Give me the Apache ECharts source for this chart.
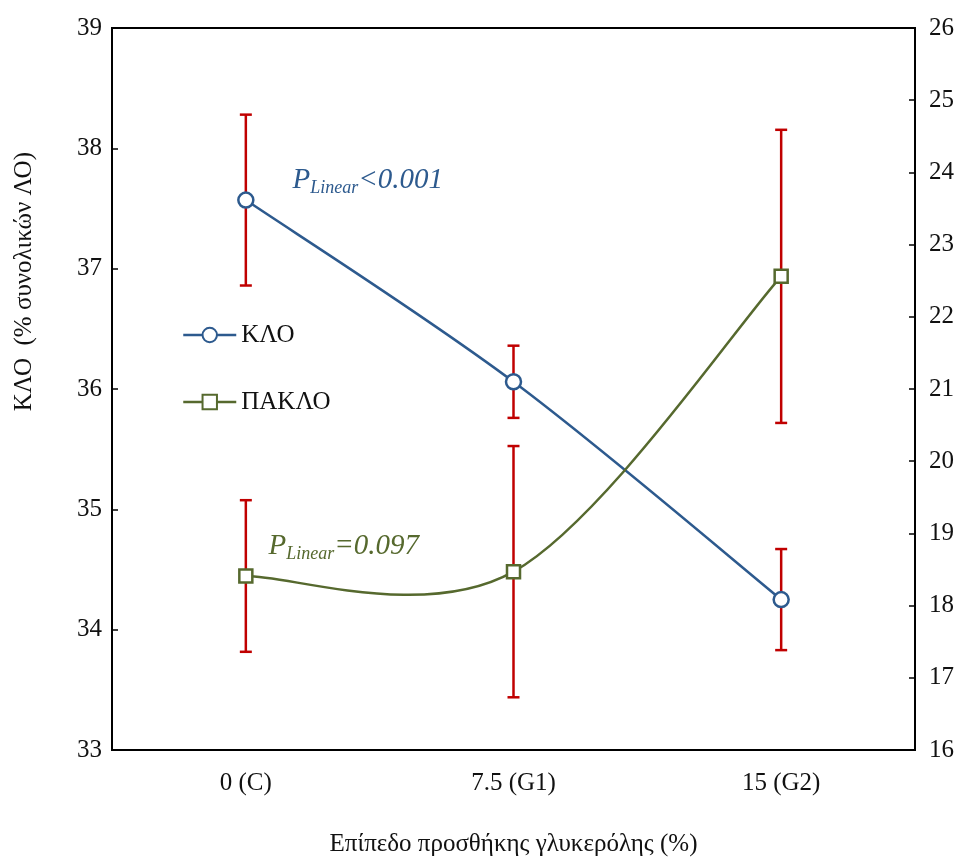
<!DOCTYPE html>
<html>
<head>
<meta charset="utf-8">
<script src="https://cdn.jsdelivr.net/npm/echarts@6/dist/echarts.min.js"></script>
<style>
  html, body { margin: 0; padding: 0; background: #fff; }
  #chart { width: 968px; height: 859px; }
</style>
</head>
<body>
<div id="chart"></div>
<script>
// Glycerol inclusion levels
const categories = ['0 (C)', '7.5 (G1)', '15 (G2)'];

// ΚΛΟ (% of total fatty acids), left axis: mean and ± error
const kloMean = [37.57, 36.06, 34.25];
const kloErr = [0.71, 0.30, 0.42];

// ΠΑΚΛΟ, right axis: mean and ± error
const pakloMean = [18.41, 18.47, 22.56];
const pakloErr = [1.05, 1.74, 2.03];

// Axis ranges
const leftAxis = { min: 33, max: 39, interval: 1 };
const rightAxis = { min: 16, max: 26, interval: 1 };

const BLUE = '#2D5A8E';
const GREEN = '#56692E';
const RED = '#C00000';
const FONT = 'Liberation Serif';
const TEXT = '#111';
const FS = 25;

function errData(mean, err) {
  return mean.map((m, i) => [i, m - err[i], m + err[i]]);
}

function renderErrorBar(params, api) {
  const x = api.value(0);
  const lo = api.coord([x, api.value(1)]);
  const hi = api.coord([x, api.value(2)]);
  const cap = 6;
  const style = { stroke: RED, lineWidth: 2.5 };
  return {
    type: 'group',
    children: [
      { type: 'line', shape: { x1: lo[0], y1: lo[1], x2: hi[0], y2: hi[1] }, style },
      { type: 'line', shape: { x1: hi[0] - cap, y1: hi[1], x2: hi[0] + cap, y2: hi[1] }, style },
      { type: 'line', shape: { x1: lo[0] - cap, y1: lo[1], x2: lo[0] + cap, y2: lo[1] }, style }
    ]
  };
}

// Smoothed connecting curve (Catmull-Rom style cubic segments between means)
function curveRenderer(values, color) {
  return function (params, api) {
    const i = params.dataIndex;
    if (i === 0) return null;
    const clampIdx = k => Math.max(0, Math.min(values.length - 1, k));
    const pt = k => api.coord([clampIdx(k), values[clampIdx(k)]]);
    const p0 = pt(i - 2), p1 = pt(i - 1), p2 = pt(i), p3 = pt(i + 1);
    return {
      type: 'bezierCurve',
      shape: {
        x1: p1[0], y1: p1[1],
        cpx1: p1[0] + (p2[0] - p0[0]) / 6, cpy1: p1[1] + (p2[1] - p0[1]) / 6,
        cpx2: p2[0] - (p3[0] - p1[0]) / 6, cpy2: p2[1] - (p3[1] - p1[1]) / 6,
        x2: p2[0], y2: p2[1]
      },
      style: { stroke: color, lineWidth: 2.5, fill: null }
    };
  };
}

function pLabel(color, rel, val, dist, off) {
  return {
    show: true,
    position: 'right',
    distance: dist,
    offset: off,
    formatter: '{p|P}{s|Linear}{v|' + rel + val + '}',
    rich: {
      p: { fontFamily: FONT, fontStyle: 'italic', fontSize: 29, color: color },
      s: { fontFamily: FONT, fontStyle: 'italic', fontSize: 18, color: color, padding: [16, 0, 0, 0] },
      v: { fontFamily: FONT, fontStyle: 'italic', fontSize: 29, color: color }
    }
  };
}

const kloData = kloMean.map((v, i) => i === 0
  ? { value: v, label: pLabel(BLUE, '<', '0.001', 38, [0, -20]) }
  : v);
const pakloData = pakloMean.map((v, i) => i === 0
  ? { value: v, label: pLabel(GREEN, '=', '0.097', 15, [0, -30]) }
  : v);

const axisText = { fontFamily: FONT, fontSize: FS, color: TEXT };

const chart = echarts.init(document.getElementById('chart'));
chart.setOption({
  animation: false,
  backgroundColor: '#fff',
  grid: {
    left: 112, right: 53, top: 28, bottom: 109,
    outerBoundsMode: 'none',
    containLabel: false,
    show: true, borderColor: '#000', borderWidth: 2
  },
  legend: {
    data: [
      { name: 'ΚΛΟ', lineStyle: { color: BLUE, width: 2.5, opacity: 1 } },
      { name: 'ΠΑΚΛΟ', lineStyle: { color: GREEN, width: 2.5, opacity: 1 } }
    ],
    orient: 'vertical',
    left: 177, top: 315,
    itemGap: 37,
    itemWidth: 53, itemHeight: 18,
    textStyle: { fontFamily: FONT, fontSize: FS, color: TEXT, lineHeight: 30 }
  },
  graphic: [
    {
      type: 'text',
      left: 12, top: 152,
      rotation: Math.PI / 2,
      style: { text: 'ΚΛΟ  (% συνολικών ΛΟ)', font: FS + 'px "' + FONT + '"', fill: TEXT }
    }
  ],
  xAxis: {
    type: 'category',
    data: categories,
    boundaryGap: true,
    axisLine: { lineStyle: { color: '#000', width: 2 } },
    axisTick: { show: false },
    axisLabel: Object.assign({ margin: 21 }, axisText),
    name: 'Επίπεδο προσθήκης γλυκερόλης (%)',
    nameLocation: 'middle',
    nameGap: 82,
    nameTextStyle: axisText
  },
  yAxis: [
    {
      type: 'value',
      min: leftAxis.min, max: leftAxis.max, interval: leftAxis.interval,
      splitLine: { show: false },
      axisLine: { show: true, lineStyle: { color: '#000', width: 2 } },
      axisTick: { show: true, inside: true, length: 6, lineStyle: { color: '#000', width: 1.5 } },
      axisLabel: Object.assign({ margin: 10 }, axisText)
    },
    {
      type: 'value',
      position: 'right',
      min: rightAxis.min, max: rightAxis.max, interval: rightAxis.interval,
      splitLine: { show: false },
      axisLine: { show: true, lineStyle: { color: '#000', width: 2 } },
      axisTick: { show: true, inside: true, length: 6, lineStyle: { color: '#000', width: 1.5 } },
      axisLabel: Object.assign({ margin: 14 }, axisText)
    }
  ],
  series: [
    {
      name: 'ΚΛΟ-err', type: 'custom', yAxisIndex: 0,
      renderItem: renderErrorBar, data: errData(kloMean, kloErr), z: 1
    },
    {
      name: 'ΠΑΚΛΟ-err', type: 'custom', yAxisIndex: 1,
      renderItem: renderErrorBar, data: errData(pakloMean, pakloErr), z: 1
    },
    {
      name: 'ΚΛΟ-curve', type: 'custom', yAxisIndex: 0,
      renderItem: curveRenderer(kloMean, BLUE),
      data: kloMean.map((v, i) => [i, v]), z: 2
    },
    {
      name: 'ΠΑΚΛΟ-curve', type: 'custom', yAxisIndex: 1,
      renderItem: curveRenderer(pakloMean, GREEN),
      data: pakloMean.map((v, i) => [i, v]), z: 2
    },
    {
      name: 'ΚΛΟ', type: 'line', yAxisIndex: 0,
      data: kloData,
      symbol: 'circle', symbolSize: 15,
      lineStyle: { color: BLUE, width: 2.5, opacity: 0 },
      itemStyle: { color: '#fff', borderColor: BLUE, borderWidth: 2.5 },
      z: 3
    },
    {
      name: 'ΠΑΚΛΟ', type: 'line', yAxisIndex: 1,
      data: pakloData,
      symbol: 'rect', symbolSize: 13,
      lineStyle: { color: GREEN, width: 2.5, opacity: 0 },
      itemStyle: { color: '#fff', borderColor: GREEN, borderWidth: 2.5 },
      z: 3
    }
  ]
});
</script>
</body>
</html>
